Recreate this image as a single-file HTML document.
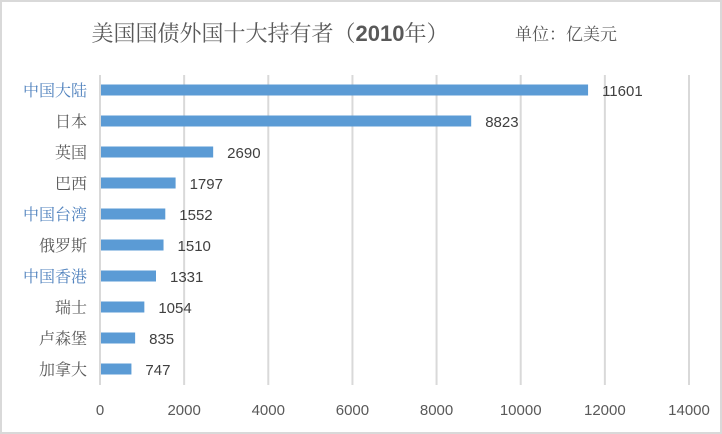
<!DOCTYPE html>
<html><head><meta charset="utf-8"><style>
body{margin:0;background:#fff;}
#wrap{position:relative;width:722px;height:434px;overflow:hidden;}
svg text{font-family:"Liberation Sans","Noto Sans CJK SC",sans-serif;}
</style></head><body>
<div id="wrap">
<svg id="chart" width="722" height="434">
<rect x="1" y="1" width="720" height="432" fill="#fff" stroke="#d9d9d9" stroke-width="2"/>
<text x="270" y="41" text-anchor="middle" font-size="22" fill="#595959" style="font-family:'Liberation Serif','Noto Serif CJK SC',serif">美国国债外国十大持有者（<tspan font-weight="bold" style="font-family:'Liberation Sans',sans-serif">2010</tspan>年）</text>
<text x="515" y="40" font-size="17" fill="#595959" style="font-family:'Liberation Serif','Noto Serif CJK SC',serif">单位：亿美元</text>
<g id="grid"></g><g id="bars"></g><g id="labels"></g>
</svg>
</div>
<script>
const categories=["中国大陆","日本","英国","巴西","中国台湾","俄罗斯","中国香港","瑞士","卢森堡","加拿大"];
const values=[11601,8823,2690,1797,1552,1510,1331,1054,835,747];
const ticks=[0,2000,4000,6000,8000,10000,12000,14000];
const blueLabels=[0,4,6];
const X0=100,XW=589,XMAX=14000,Y0=90,STEP=31,BH=11,GT=75,GB=385;
const x=v=>X0+v/XMAX*XW;
const y=i=>Y0+i*STEP;
const NS="http://www.w3.org/2000/svg";
const g=document.getElementById('grid'),b=document.getElementById('bars'),l=document.getElementById('labels');
function mk(tag,attrs,parent,txt){const e=document.createElementNS(NS,tag);for(const k in attrs)e.setAttribute(k,attrs[k]);if(txt!==undefined)e.textContent=txt;parent.appendChild(e);return e;}
ticks.forEach(t=>{
 const ln=mk('line',{x1:x(t),x2:x(t),y1:GT,y2:GB,stroke:'#d9d9d9','stroke-width':2},g);
 
 
 const tx=mk('text',{x:x(t),y:415,'text-anchor':'middle','font-size':15,fill:'#595959'},g,String(t));
 
 
});
categories.forEach((c,i)=>{
 const r=mk('rect',{x:X0+1,y:y(i)-BH/2,width:x(values[i])-X0-1,height:BH,fill:'#5b9bd5'},b);
 
 
 const v=mk('text',{x:x(values[i])+14,y:y(i)+6,'font-size':15,fill:'#404040'},l,String(values[i]));
 
 
 const cl=mk('text',{x:87,y:y(i)+6,'text-anchor':'end','font-size':16,fill:blueLabels.includes(i)?'#4f81bd':'#595959',style:"font-family:'Liberation Serif','Noto Serif CJK SC',serif"},l,c);
 
 
});
</script>
</body></html>
